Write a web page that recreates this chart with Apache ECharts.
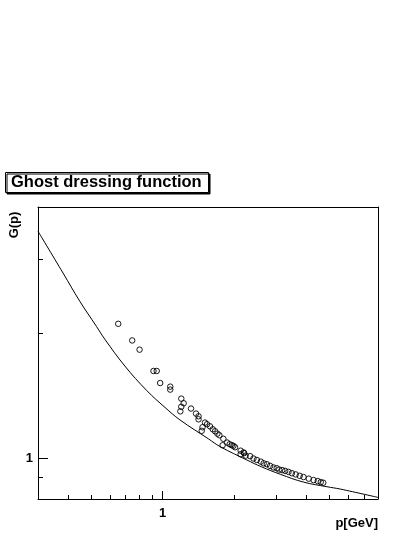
<!DOCTYPE html>
<html>
<head>
<meta charset="utf-8">
<script src="https://cdn.jsdelivr.net/npm/echarts@6/dist/echarts.min.js"></script>
<style>
  html, body { margin: 0; padding: 0; background: #fff; }
  #chart { width: 415px; height: 537px; }
</style>
</head>
<body>
<div id="chart"></div>
<script>
// 数据
const curveP = [0.30, 0.382, 0.449, 0.528, 0.572, 0.694, 0.857, 1.023, 1.182, 1.554, 1.741, 2.254, 2.6, 3.111, 3.9, 4.887, 5.559, 8.0]
const curveG = [3.50, 2.78, 2.38, 2.07, 1.93, 1.665, 1.455, 1.325, 1.237, 1.115, 1.068, 0.992, 0.955, 0.917, 0.878, 0.856, 0.845, 0.807]

const latticeP = [0.651, 0.745, 0.800, 0.915, 0.944, 0.976, 1.076, 1.076, 1.197, 1.225, 1.197, 1.186, 1.315, 1.380, 1.414, 1.414,
  1.505, 1.469, 1.458, 1.535, 1.580, 1.622, 1.659, 1.696, 1.729, 1.797, 1.784, 1.863, 1.909, 1.950, 1.980, 2.012,
  2.123, 2.185, 2.123, 2.228, 2.196, 2.327, 2.403, 2.483, 2.581, 2.652, 2.735, 2.823, 2.915, 3.007, 3.081, 3.172,
  3.265, 3.371, 3.483, 3.614, 3.756, 3.897, 4.099, 4.294, 4.472, 4.603, 4.716]
const latticeG = [2.101, 1.917, 1.822, 1.620, 1.620, 1.516, 1.486, 1.462, 1.391, 1.356, 1.330, 1.297, 1.317, 1.281, 1.262, 1.241,
  1.219, 1.188, 1.165, 1.208, 1.194, 1.175, 1.162, 1.147, 1.137, 1.115, 1.076, 1.092, 1.082, 1.076, 1.072, 1.064,
  1.044, 1.034, 1.024, 1.016, 1.030, 1.013, 1.000, 0.992, 0.983, 0.974, 0.969, 0.960, 0.952, 0.948, 0.941, 0.938,
  0.934, 0.929, 0.922, 0.916, 0.909, 0.903, 0.895, 0.888, 0.883, 0.878, 0.875]

// 坐标范围 和 刻度
const xRange = [0.3, 8]
const yRange = [0.8, 4]
const xMinorTicks = [0.4, 0.5, 0.6, 0.7, 0.8, 0.9, 2, 3, 4, 5, 6, 7]
const xMajorTicks = [1]
const yMinorTicks = [0.9, 2, 3]
const yMajorTicks = [1]

const lg = (v) => Math.log10(v)
const font = "'Liberation Sans', Arial, Helvetica, sans-serif"

const myChart = echarts.init(document.getElementById("chart"))

// 刻度轴 (linear in log10 space, only for drawing ticks)
function tickAxis(dim, position, range, ticks, len, showLine, labels) {
  return {
    type: "value",
    position: position,
    min: lg(range[0]),
    max: lg(range[1]),
    axisLine: { show: showLine, onZero: false, lineStyle: { color: "#000", width: 1 } },
    axisTick: {
      show: ticks.length > 0,
      inside: true,
      length: len,
      customValues: ticks.map(lg),
      lineStyle: { color: "#000", width: 1 },
    },
    axisLabel: labels
      ? {
          show: true,
          customValues: labels.map(lg),
          formatter: (v) => String(Math.round(Math.pow(10, v))),
          color: "#000",
          fontFamily: font,
          fontWeight: "bold",
          fontSize: 13,
          margin: dim === "x" ? 8 : 5,
        }
      : { show: false },
    splitLine: { show: false },
  }
}

const option = {
  animation: false,
  backgroundColor: "#fff",
  title: {
    text: "Ghost dressing function",
    left: 5,
    top: 172,
    padding: [2, 7, 2, 6],
    backgroundColor: "#fff",
    borderColor: "#000",
    borderWidth: 1,
    shadowColor: "#000",
    shadowBlur: 0,
    shadowOffsetX: 1.5,
    shadowOffsetY: 1.5,
    textStyle: { color: "#000", fontFamily: font, fontWeight: "bold", fontSize: 16.5 },
  },
  grid: { left: 38, right: 37, top: 207, bottom: 38 },
  xAxis: [
    {
      type: "log",
      min: xRange[0],
      max: xRange[1],
      axisLine: { show: false },
      axisTick: { show: false },
      axisLabel: { show: false },
      splitLine: { show: false },
    },
    tickAxis("x", "bottom", xRange, xMinorTicks, 4, true, null),
    tickAxis("x", "bottom", xRange, xMajorTicks, 8, false, xMajorTicks),
    tickAxis("x", "top", xRange, [], 4, true, null),
  ],
  yAxis: [
    {
      type: "log",
      min: yRange[0],
      max: yRange[1],
      axisLine: { show: false },
      axisTick: { show: false },
      axisLabel: { show: false },
      splitLine: { show: false },
    },
    tickAxis("y", "left", yRange, yMinorTicks, 5, true, null),
    tickAxis("y", "left", yRange, yMajorTicks, 10, false, yMajorTicks),
    tickAxis("y", "right", yRange, [], 5, true, null),
  ],
  graphic: [
    {
      type: "text",
      x: 14,
      y: 225,
      rotation: Math.PI / 2,
      style: {
        text: "G(p)",
        fill: "#000",
        font: "bold 13px " + font,
        textAlign: "center",
        textVerticalAlign: "middle",
      },
    },
    {
      type: "text",
      x: 378,
      y: 523,
      style: {
        text: "p[GeV]",
        fill: "#000",
        font: "bold 13px " + font,
        textAlign: "right",
        textVerticalAlign: "middle",
      },
    },
  ],
  series: [
    {
      type: "line",
      xAxisIndex: 0,
      yAxisIndex: 0,
      data: curveP.map((p, i) => [p, curveG[i]]),
      smooth: 0.4,
      showSymbol: false,
      lineStyle: { color: "#000", width: 1 },
    },
    {
      type: "scatter",
      xAxisIndex: 0,
      yAxisIndex: 0,
      data: latticeP.map((p, i) => [p, latticeG[i]]),
      symbol: "circle",
      symbolSize: 5.5,
      itemStyle: { color: "rgba(0,0,0,0)", borderColor: "#000", borderWidth: 0.9, opacity: 1 },
    },
  ],
}

myChart.setOption(option)
</script>
</body>
</html>
